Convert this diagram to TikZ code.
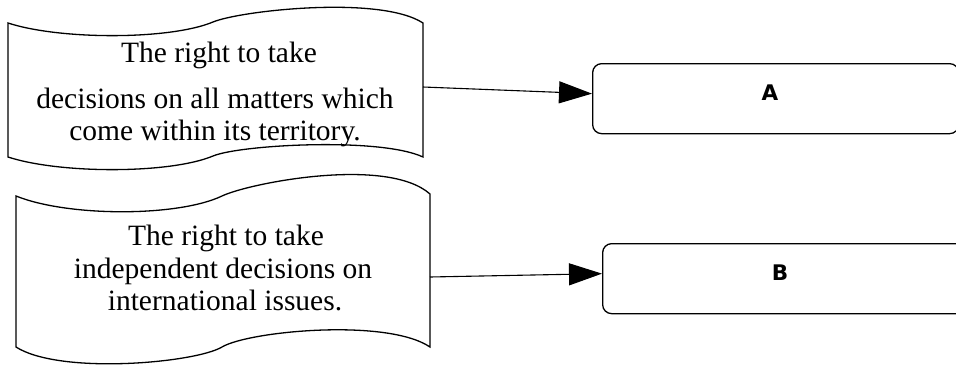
\documentclass[tikz,border=0pt]{standalone}
\usepackage{fontspec}
\setmainfont{Liberation Serif}
\newfontfamily\labelfont{DejaVu Sans}
\usetikzlibrary{arrows.meta}

\tikzset{
  tape/.style={draw=black, line width=1.3pt, fill=white},
  tapetext/.style={anchor=base, inner sep=0pt, font=\fontsize{29.5}{32}\selectfont},
  answerbox/.style={draw=black, line width=1.3pt, rounded corners=9pt, fill=white,
    anchor=north west, inner sep=0pt},
  answerlabel/.style={font=\labelfont\bfseries\fontsize{21.5}{24}\selectfont},
  link/.style={draw=black, line width=1.1pt, -{Triangle[length=33pt,width=22pt]}}
}

\begin{document}
\begin{tikzpicture}[x=1pt, y=-1pt]
  \useasboundingbox (0,0) rectangle (956,367);

  % first wavy tape
  \path[tape] (8,23) .. controls (60,40) and (170,40) .. (213,22)
    .. controls (240,10.7) and (380,-5) .. (423,23)
    -- (423,157) .. controls (380,137) and (240,144.7) .. (213,156)
    .. controls (170,174) and (60,174) .. (8,157) -- cycle;
  \node[tapetext] (t1a) at (219,62) {The right to take};
  \node[tapetext] (t1b) at (215,108) {decisions on all matters which};
  \node[tapetext] (t1c) at (215,140) {come within its territory.};
  \coordinate (tapeAout) at (423,87);

  % second wavy tape
  \path[tape] (16,196) .. controls (68,217) and (178,217) .. (222,196)
    .. controls (249,183.1) and (387,156) .. (430,194)
    -- (430,347) .. controls (387,318) and (249,331) .. (222,347)
    .. controls (195,363) and (60,375) .. (16,347) -- cycle;
  \node[tapetext] (t2a) at (226,245) {The right to take};
  \node[tapetext] (t2b) at (223,278) {independent decisions on};
  \node[tapetext] (t2c) at (225,310) {international issues.};
  \coordinate (tapeBout) at (430,277);

  % answer boxes
  \node[answerbox, minimum width=366pt, minimum height=70pt] (A) at (592,63) {};
  \node[answerlabel] (Alabel) at (770,93) {A};
  \node[answerbox, minimum width=380pt, minimum height=70pt] (B) at (602,243) {};
  \node[answerlabel] (Blabel) at (780,273) {B};

  % connectors
  \draw[link] (tapeAout) -- ([yshift=5pt]A.west);
  \draw[link] (tapeBout) -- ([yshift=5pt]B.west);
\end{tikzpicture}
\end{document}
